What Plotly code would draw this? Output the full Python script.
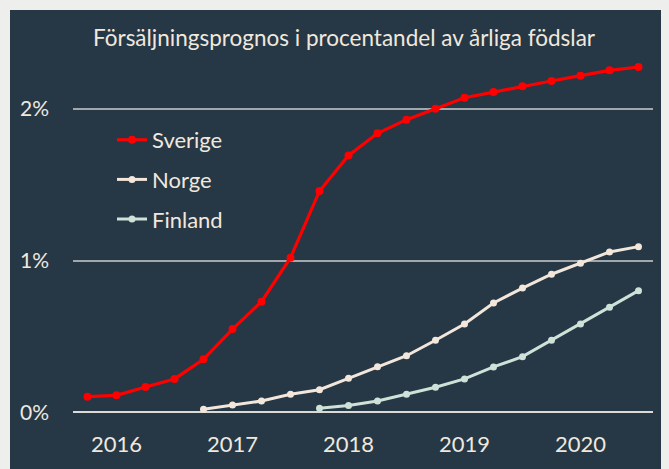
import plotly.graph_objects as go

x_idx = list(range(20))
year_ticks = [1, 5, 9, 13, 17]
year_labels = ["2016", "2017", "2018", "2019", "2020"]

sverige = [0.103, 0.112, 0.167, 0.220, 0.349, 0.549, 0.729, 1.019, 1.459, 1.693,
           1.839, 1.929, 2.001, 2.074, 2.111, 2.149, 2.184, 2.219, 2.254, 2.276]
norge = [None, None, None, None, 0.020, 0.048, 0.074, 0.119, 0.149, 0.224,
         0.301, 0.373, 0.475, 0.582, 0.721, 0.819, 0.910, 0.982, 1.057, 1.092]
finland = [None, None, None, None, None, None, None, None, 0.026, 0.045,
           0.074, 0.119, 0.165, 0.220, 0.299, 0.367, 0.475, 0.582, 0.692, 0.802]

y_ticks = [0, 1, 2]
y_labels = ["0%", "1%", "2%"]

BG = "#263746"
TXT = "#f1e8dd"
STRIP = "#eeeeec"
FONT = "Lato"

fig = go.Figure()
series = [("Sverige", sverige, "#ff0000", 8, 3.2),
          ("Norge", norge, "#f3e7dc", 7, 3),
          ("Finland", finland, "#cfe2d8", 7, 3)]
for name, vals, col, ms, lw in series:
    fig.add_trace(go.Scatter(x=x_idx, y=vals, name=name, mode="lines+markers",
                             line=dict(color=col, width=lw),
                             marker=dict(color=col, size=ms),
                             legendgroup=name, connectgaps=False))

# figure is placed at page offset (8, 8) by the default body margin
OFF = 8
W, H = 669 - OFF, 469 - OFF
L, R, T, B = 65, 16, 47, 44
pw, ph = W - L - R, H - T - B

def px2paper_x(p):
    return (p - L) / pw

def px2paper_y(p):
    return (H - B - p) / ph

fig.add_shape(type="rect", xref="paper", yref="paper",
              x0=px2paper_x(-5), x1=px2paper_x(2), y0=px2paper_y(480), y1=px2paper_y(-5),
              fillcolor=STRIP, line_width=0, layer="above")
fig.add_shape(type="rect", xref="paper", yref="paper",
              x0=px2paper_x(-5), x1=px2paper_x(680), y0=px2paper_y(2), y1=px2paper_y(-5),
              fillcolor=STRIP, line_width=0, layer="above")

fig.update_layout(
    width=W, height=H,
    margin=dict(l=L, r=R, t=T, b=B, pad=0),
    paper_bgcolor=BG, plot_bgcolor=BG,
    font=dict(family=FONT, color=TXT, size=21),
    title=dict(text="Försäljningsprognos i procentandel av årliga födslar",
               x=(344 - OFF) / W, xref="container", xanchor="center",
               y=1 - (38 - OFF) / H, yref="container", yanchor="middle",
               font=dict(family=FONT, size=22.5, color=TXT)),
    showlegend=True,
    legend=dict(x=px2paper_x(104), xanchor="left", y=px2paper_y(111), yanchor="top",
                bgcolor="rgba(0,0,0,0)", font=dict(family=FONT, size=22, color=TXT),
                tracegroupgap=8, itemwidth=30),
    xaxis=dict(range=[-0.5, 19.5], tickvals=year_ticks, ticktext=year_labels,
               showgrid=False, zeroline=False, showline=False, ticks="",
               tickfont=dict(family=FONT, size=22, color=TXT), ticklabelstandoff=4,
               fixedrange=True),
    yaxis=dict(range=[(412.3 - (H - B + OFF)) / 151.7, (412.3 - (T + OFF)) / 151.7],
               tickvals=y_ticks, ticktext=y_labels,
               showgrid=True, gridcolor="#a2a7ac", gridwidth=2,
               zeroline=True, zerolinecolor="#dcdad6", zerolinewidth=2,
               showline=False, ticks="", ticklabelstandoff=23,
               tickfont=dict(family=FONT, size=21, color=TXT), fixedrange=True),
)

fig.write_html("out.html", post_script="document.body.style.background='%s';" % STRIP)
